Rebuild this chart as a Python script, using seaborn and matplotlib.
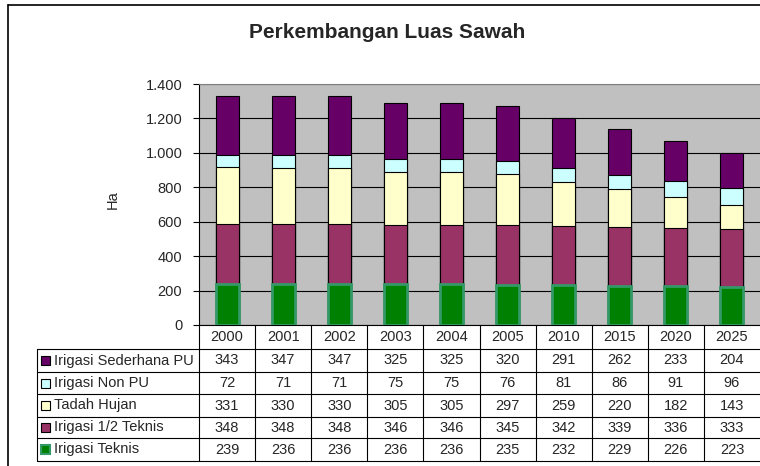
import numpy as np
import pandas as pd
import matplotlib
matplotlib.use("Agg")
import matplotlib.pyplot as plt
import seaborn as sns
from matplotlib.lines import Line2D
from matplotlib.patches import Rectangle
from matplotlib.ticker import FuncFormatter

# ---------------- data ----------------
years = ["2000", "2001", "2002", "2003", "2004", "2005", "2010", "2015", "2020", "2025"]
sederhana_pu = [343, 347, 347, 325, 325, 320, 291, 262, 233, 204]
non_pu = [72, 71, 71, 75, 75, 76, 81, 86, 91, 96]
tadah_hujan = [331, 330, 330, 305, 305, 297, 259, 220, 182, 143]
setengah_teknis = [348, 348, 348, 346, 346, 345, 342, 339, 336, 333]
teknis = [239, 236, 236, 236, 236, 235, 232, 229, 226, 223]

# table/legend order (top to bottom)
series_names = ["Irigasi Sederhana PU", "Irigasi Non PU", "Tadah Hujan",
                "Irigasi 1/2 Teknis", "Irigasi Teknis"]
series_values = [sederhana_pu, non_pu, tadah_hujan, setengah_teknis, teknis]
series_colors = ["#660066", "#CCFFFF", "#FFFFCC", "#993366", "#008000"]
series_edges = ["black", "black", "black", "black", "#339966"]
series_lw = [0.8, 0.8, 0.8, 0.8, 2.0]

title = "Perkembangan Luas Sawah"
ylabel = "Ha"

# ---------------- figure ----------------
sns.set_style("white")
plt.rcParams["font.family"] = ["Liberation Sans", "DejaVu Sans"]

W, H = 760, 466
FS = 10.5
fig = plt.figure(figsize=(W / 100, H / 100), dpi=100)
fig.patch.set_facecolor("white")

def fx(x):
    return x / W

def fy(y):
    return 1 - y / H

ax_l, ax_r, ax_t, ax_b = 199, 760, 84, 325
ax = fig.add_axes([fx(ax_l), fy(ax_b), fx(ax_r - ax_l), (ax_b - ax_t) / H])
ax.set_facecolor("#C0C0C0")

# stacked bars: draw cumulative totals from top layer down
bottom_up = list(range(len(series_values)))[::-1]  # indices bottom->top
cum = np.zeros(len(years))
cums = {}
for i in bottom_up:
    cum = cum + np.array(series_values[i])
    cums[i] = cum.copy()

for i in range(len(series_values)):  # top layer first
    df = pd.DataFrame({"year": years, "value": cums[i]})
    sns.barplot(data=df, x="year", y="value", order=years, color=series_colors[i],
                saturation=1, width=0.41, edgecolor=series_edges[i],
                linewidth=series_lw[i], ax=ax, zorder=3)

ax.set_xlim(-0.5, len(years) - 0.5)
ax.set_ylim(0, 1400)
ax.set_yticks(np.arange(0, 1401, 200))
ax.yaxis.set_major_formatter(FuncFormatter(lambda v, p: f"{int(v):,}".replace(",", ".")))
ax.yaxis.grid(True, color="black", linewidth=0.8)
ax.xaxis.grid(False)
ax.set_axisbelow(True)
ax.tick_params(axis="y", direction="out", length=4, width=0.8, color="black",
               labelsize=FS, pad=8, left=True)
ax.tick_params(axis="x", length=0, labelbottom=False)
ax.set_xlabel("")
ax.set_ylabel("")
for s in ["left", "bottom"]:
    ax.spines[s].set_color("black")
    ax.spines[s].set_linewidth(0.8)
ax.spines["top"].set_color("#808080")
ax.spines["top"].set_linewidth(0.8)
ax.spines["right"].set_visible(False)

# title and y label
fig.text(fx(387), fy(33), title, ha="center", va="center", fontsize=15, fontweight="bold")
fig.text(fx(113), fy(200), ylabel, ha="center", va="center", rotation=90, fontsize=FS)

# outer chart border
fig.add_artist(Line2D([fx(8), fx(760)], [fy(5), fy(5)], color="black", lw=1.2))
fig.add_artist(Line2D([fx(8), fx(8)], [fy(5), fy(466)], color="black", lw=1.2))

# ---------------- data table ----------------
col_w = 56.1
row_lines = [349, 372, 394, 417, 438, 461]
lab_left = 37
lc = "black"
lw = 0.8
# header vertical lines
for k in range(len(years)):
    x = ax_l + col_w * k
    fig.add_artist(Line2D([fx(x), fx(x)], [fy(325), fy(461)], color=lc, lw=lw))
# label column left border
fig.add_artist(Line2D([fx(lab_left), fx(lab_left)], [fy(349), fy(461)], color=lc, lw=lw))
# horizontal lines
for y in row_lines:
    fig.add_artist(Line2D([fx(lab_left), fx(760)], [fy(y), fy(y)], color=lc, lw=lw))

# year header
for k, yr in enumerate(years):
    xc = ax_l + col_w * (k + 0.5)
    fig.text(fx(xc), fy(337), yr, ha="center", va="center", fontsize=FS)

# rows
for r, (name, vals, c, ec) in enumerate(zip(series_names, series_values, series_colors, series_edges)):
    yc = (row_lines[r] + row_lines[r + 1]) / 2
    if ec == "black":
        key = Rectangle((fx(41), fy(yc + 4.5)), 9 / W, 9 / H, facecolor=c,
                        edgecolor="black", lw=0.8, transform=fig.transFigure)
    else:
        key = Rectangle((fx(41), fy(yc + 4.5)), 9 / W, 9 / H, facecolor=c,
                        edgecolor=ec, lw=1.5, transform=fig.transFigure)
    fig.add_artist(key)
    fig.text(fx(54), fy(yc), name, ha="left", va="center", fontsize=FS)
    for k, v in enumerate(vals):
        xc = ax_l + col_w * (k + 0.5)
        fig.text(fx(xc), fy(yc), str(v), ha="center", va="center", fontsize=FS)

fig.savefig("out.png", dpi=100)
